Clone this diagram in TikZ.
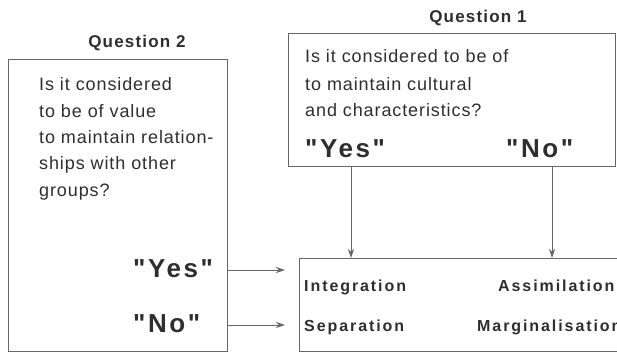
\documentclass[tikz,border=0pt]{standalone}
\usepackage{fontspec}
\setmainfont{Liberation Sans}
\newfontfamily\bodyfont{Liberation Sans}[LetterSpace=5.0]
\newfontfamily\headfont{Liberation Sans}[LetterSpace=7.0]
\newfontfamily\answerfont{Liberation Sans}[LetterSpace=10.0]
\newfontfamily\resultfont{Liberation Sans}[LetterSpace=12.0]
\usetikzlibrary{arrows.meta}
\definecolor{ink}{HTML}{2E2E2E}
\definecolor{rule}{HTML}{666666}
\tikzset{
  frame/.style={draw=rule, line width=0.9pt, inner sep=0pt, anchor=north west},
  body/.style={anchor=base west, inner sep=0pt, text=ink, font=\bodyfont\fontsize{18}{22}\selectfont},
  head/.style={anchor=base, inner sep=0pt, text=ink, font=\headfont\bfseries\fontsize{17}{20}\selectfont},
  answer/.style={anchor=base west, inner sep=0pt, text=ink, font=\answerfont\bfseries\fontsize{26}{30}\selectfont},
  result/.style={anchor=base west, inner sep=0pt, text=ink, font=\resultfont\bfseries\fontsize{16}{19}\selectfont},
  link/.style={draw=rule, line width=0.8pt, -{Stealth[length=9pt,width=6pt]}},
}
\begin{document}
\begin{tikzpicture}[x=1pt,y=-1pt]
\useasboundingbox (0,0) rectangle (617,353);
\clip (0,0) rectangle (617,353);

% question boxes and the outcome box
\node[frame, minimum width=327pt, minimum height=133pt] (q1) at (288,33) {};
\node[frame, minimum width=219pt, minimum height=292pt] (q2) at (8,59) {};
\node[frame, minimum width=340pt, minimum height=93pt] (out) at (299,258) {};

% titles
\node[head] (t1) at (478,23) {Question 1};
\node[head] (t2) at (137,48) {Question 2};

% question 1 text
\node[body] (a1) at (305,63) {Is it considered to be of};
\node[body] (a2) at (305,90) {to maintain cultural};
\node[body] (a3) at (305,116) {and characteristics?};
\node[answer] (y1) at (305,157) {"Yes"};
\node[answer] (n1) at (506,157) {"No"};

% question 2 text
\node[body] (b1) at (39,90) {Is it considered};
\node[body] (b2) at (39,117) {to be of value};
\node[body] (b3) at (39,143) {to maintain relation-};
\node[body] (b4) at (39,169) {ships with other};
\node[body] (b5) at (39,196) {groups?};
\node[answer] (y2) at (133,277) {"Yes"};
\node[answer] (n2) at (133,332) {"No"};

% outcomes
\node[result] (r1) at (304,291) {Integration};
\node[result] (r2) at (304,331) {Separation};
\node[result] (r3) at (498,291) {Assimilation};
\node[result] (r4) at (477,331) {Marginalisation};

% anchor points for the connectors
\coordinate (cy) at (351,0);
\coordinate (cn) at (552,0);
\coordinate (ry) at (0,270);
\coordinate (rn) at (0,325);

\draw[link] (q1.south -| cy) -- (out.north -| cy);
\draw[link] (q1.south -| cn) -- (out.north -| cn);
\draw[link, shorten >=14pt] (q2.east |- ry) -- (out.west |- ry);
\draw[link, shorten >=14pt] (q2.east |- rn) -- (out.west |- rn);
\end{tikzpicture}
\end{document}
